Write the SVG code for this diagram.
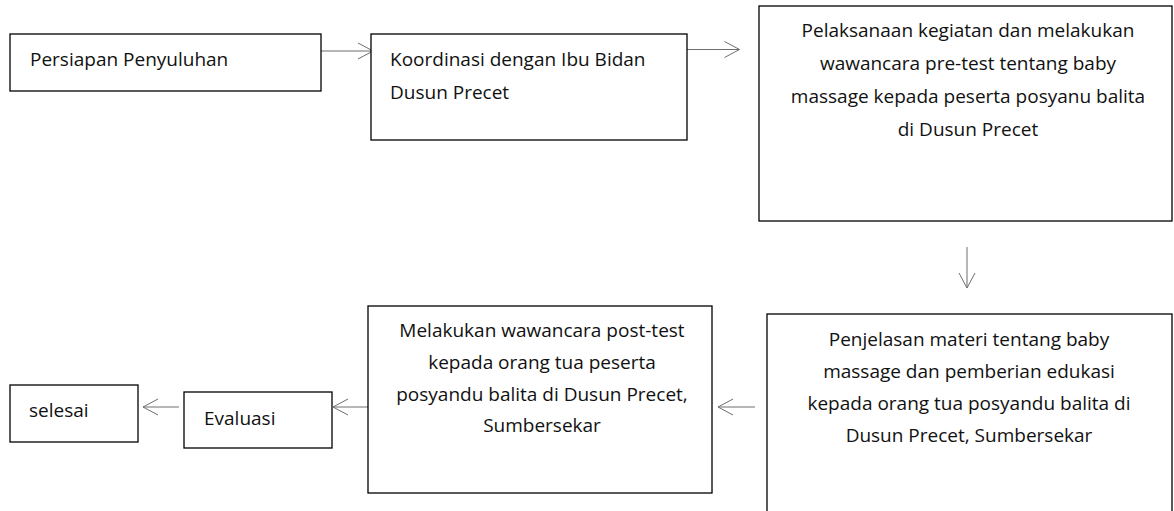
<svg xmlns="http://www.w3.org/2000/svg" width="1174" height="511" viewBox="0 0 1174 511">
<style>
.box{fill:#fff;stroke:#000;stroke-width:1.3}
.t{font-family:"Open Sans","Liberation Sans",sans-serif;font-size:19px;fill:#111}
.c{text-anchor:middle}
.conn{stroke:#6e6e6e;stroke-width:1;fill:none}
</style>
<defs>
<marker id="ah" markerUnits="userSpaceOnUse" viewBox="0 0 17 18" markerWidth="17" markerHeight="18" refX="16" refY="9" orient="auto">
<path d="M1,1 L16,9 L1,17" fill="none" stroke="#6e6e6e" stroke-width="1"/>
</marker>
</defs>
<rect width="1174" height="511" fill="#fff"/>
<g id="connectors">
<line class="conn" x1="321" y1="51" x2="373" y2="51" marker-end="url(#ah)"/>
<line class="conn" x1="687" y1="49.5" x2="739.5" y2="49.5" marker-end="url(#ah)"/>
<line class="conn" x1="967" y1="247" x2="967" y2="288" marker-end="url(#ah)"/>
<line class="conn" x1="755" y1="407" x2="718" y2="407" marker-end="url(#ah)"/>
<line class="conn" x1="368" y1="407" x2="333" y2="407" marker-end="url(#ah)"/>
<line class="conn" x1="179" y1="407" x2="143" y2="407" marker-end="url(#ah)"/>
</g>
<g id="persiapan">
<rect class="box" x="10" y="34" width="311" height="57"/>
<text class="t" x="30" y="66">Persiapan Penyuluhan</text>
</g>
<g id="koordinasi">
<rect class="box" x="371" y="34" width="316" height="106"/>
<text class="t" x="390" y="66">Koordinasi dengan Ibu Bidan</text>
<text class="t" x="390" y="99">Dusun Precet</text>
</g>
<g id="pelaksanaan">
<rect class="box" x="759" y="6" width="413" height="215"/>
<text class="t c" x="968" y="37">Pelaksanaan kegiatan dan melakukan</text>
<text class="t c" x="968" y="70">wawancara pre-test tentang baby</text>
<text class="t c" x="968" y="103">massage kepada peserta posyanu balita</text>
<text class="t c" x="968" y="136">di Dusun Precet</text>
</g>
<g id="penjelasan">
<rect class="box" x="767" y="314" width="405" height="210"/>
<text class="t c" x="969" y="346">Penjelasan materi tentang baby</text>
<text class="t c" x="969" y="378">massage dan pemberian edukasi</text>
<text class="t c" x="969" y="410">kepada orang tua posyandu balita di</text>
<text class="t c" x="969" y="442">Dusun Precet, Sumbersekar</text>
</g>
<g id="posttest">
<rect class="box" x="368" y="306" width="344" height="187"/>
<text class="t c" x="542" y="337">Melakukan wawancara post-test</text>
<text class="t c" x="542" y="369">kepada orang tua peserta</text>
<text class="t c" x="542" y="401">posyandu balita di Dusun Precet,</text>
<text class="t c" x="542" y="432">Sumbersekar</text>
</g>
<g id="evaluasi">
<rect class="box" x="184" y="392" width="148" height="56"/>
<text class="t" x="204" y="425">Evaluasi</text>
</g>
<g id="selesai">
<rect class="box" x="10" y="385" width="128" height="57"/>
<text class="t" x="29" y="417">selesai</text>
</g>
</svg>
